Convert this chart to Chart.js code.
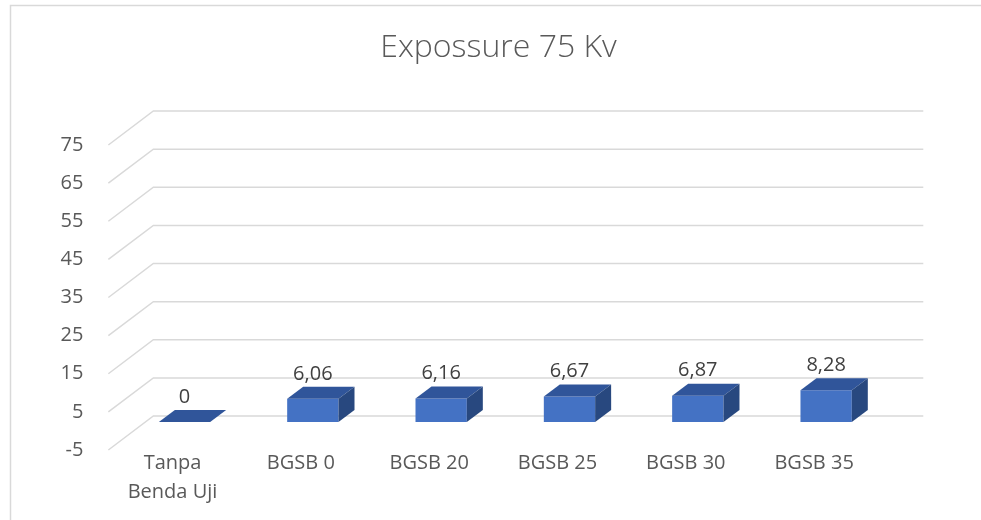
<!DOCTYPE html>
<html>
<head>
<meta charset="utf-8">
<script src="https://cdn.jsdelivr.net/npm/chart.js@4.4.1/dist/chart.umd.min.js"></script>
<style>
  html, body { margin: 0; padding: 0; background: #ffffff; overflow: hidden; }
  #wrap { width: 981px; height: 520px; position: relative; }
</style>
</head>
<body>
<div id="wrap"><canvas id="chart"></canvas></div>
<script>
// Chart data
const categories = [['Tanpa', 'Benda Uji'], 'BGSB 0', 'BGSB 20', 'BGSB 25', 'BGSB 30', 'BGSB 35'];
const exposureValues = [0, 6.06, 6.16, 6.67, 6.87, 8.28];
const yTickValues = [-5, 5, 15, 25, 35, 45, 55, 65, 75];

// Pseudo-3D geometry (pixel offsets relative to the plane of the bar fronts)
const BAR_DEPTH = { dx: 16, dy: -12 };
const FRONT_EDGE = { dx: -12, dy: 9 };
const BACK_WALL = { dx: 33, dy: -25 };

const FONT_FAMILY = "'Open Sans', 'Noto Sans', sans-serif";
const AXIS_TEXT = '#595959';
const LABEL_TEXT = '#404040';
const GRID_COLOR = '#d9d9d9';
const FRONT_COLOR = '#4472C4';
const TOP_COLOR = '#30559A';
const SIDE_COLOR = '#28487F';

function formatValue(v) {
  return String(v).replace('.', ',');
}

const box3d = {
  id: 'box3d',
  beforeDraw(chart) {
    const ctx = chart.ctx;
    ctx.save();
    ctx.strokeStyle = GRID_COLOR;
    ctx.lineWidth = 1.5;
    ctx.beginPath();
    ctx.moveTo(10.5, chart.height);
    ctx.lineTo(10.5, 5.5);
    ctx.lineTo(chart.width, 5.5);
    ctx.stroke();
    ctx.restore();
  },
  beforeDatasetsDraw(chart) {
    const { ctx, chartArea, scales } = chart;
    const y = scales.y;
    ctx.save();
    ctx.strokeStyle = GRID_COLOR;
    ctx.lineWidth = 1.5;
    y.ticks.forEach(t => {
      const py = y.getPixelForValue(t.value);
      ctx.beginPath();
      ctx.moveTo(chartArea.left + FRONT_EDGE.dx, py + FRONT_EDGE.dy);
      ctx.lineTo(chartArea.left + BACK_WALL.dx, py + BACK_WALL.dy);
      ctx.lineTo(chartArea.right + BACK_WALL.dx, py + BACK_WALL.dy);
      ctx.stroke();
    });
    ctx.restore();
  },
  afterDatasetsDraw(chart) {
    const ctx = chart.ctx;
    const meta = chart.getDatasetMeta(0);
    const values = chart.data.datasets[0].data;
    ctx.save();
    meta.data.forEach((bar, i) => {
      const p = bar.getProps(['x', 'y', 'base', 'width'], true);
      const l = p.x - p.width / 2;
      const r = p.x + p.width / 2;
      const top = Math.min(p.y, p.base);
      const bottom = Math.max(p.y, p.base);
      const { dx, dy } = BAR_DEPTH;
      // top face
      ctx.fillStyle = TOP_COLOR;
      ctx.beginPath();
      ctx.moveTo(l, top);
      ctx.lineTo(r, top);
      ctx.lineTo(r + dx, top + dy);
      ctx.lineTo(l + dx, top + dy);
      ctx.closePath();
      ctx.fill();
      // side face
      if (bottom - top > 0.5) {
        ctx.fillStyle = SIDE_COLOR;
        ctx.beginPath();
        ctx.moveTo(r, top);
        ctx.lineTo(r + dx, top + dy);
        ctx.lineTo(r + dx, bottom + dy);
        ctx.lineTo(r, bottom);
        ctx.closePath();
        ctx.fill();
      }
      // value label
      ctx.fillStyle = LABEL_TEXT;
      ctx.font = '20px ' + FONT_FAMILY;
      ctx.textAlign = 'center';
      ctx.textBaseline = 'middle';
      ctx.fillText(formatValue(values[i]), p.x, top + dy - 13);
    });
    ctx.restore();
  }
};

new Chart(document.getElementById('chart'), {
  type: 'bar',
  data: {
    labels: categories,
    datasets: [{
      data: exposureValues,
      backgroundColor: FRONT_COLOR,
      borderWidth: 0,
      barPercentage: 0.4,
      categoryPercentage: 1
    }]
  },
  options: {
    responsive: true,
    maintainAspectRatio: false,
    animation: false,
    events: [],
    layout: { padding: { left: 16, right: 0, top: 0, bottom: 0 } },
    plugins: {
      legend: { display: false },
      tooltip: { enabled: false },
      title: {
        display: true,
        text: 'Expossure 75 Kv',
        color: AXIS_TEXT,
        font: { family: FONT_FAMILY, size: 32, weight: 300, lineHeight: 1.2 },
        padding: { top: 28.4, bottom: 69.2 }
      }
    },
    scales: {
      x: {
        grid: { display: false, drawTicks: false },
        border: { display: false },
        ticks: {
          color: AXIS_TEXT,
          font: { family: FONT_FAMILY, size: 20, lineHeight: 1.45 },
          padding: 7.5,
          labelOffset: FRONT_EDGE.dx,
          maxRotation: 0,
          autoSkip: false
        },
        afterFit(s) { s.height = 79; }
      },
      y: {
        min: yTickValues[0],
        max: yTickValues[yTickValues.length - 1],
        grid: { display: false, drawTicks: false },
        border: { display: false },
        ticks: {
          color: AXIS_TEXT,
          font: { family: FONT_FAMILY, size: 20 },
          padding: 37,
          labelOffset: FRONT_EDGE.dy
        },
        afterBuildTicks(s) { s.ticks = yTickValues.map(v => ({ value: v })); },
        afterFit(s) { s.width = 104.35; }
      },
      depthSpace: {
        type: 'linear',
        position: 'right',
        grid: { display: false, drawTicks: false },
        border: { display: false },
        ticks: { display: false },
        afterFit(s) { s.width = 90.7; }
      }
    }
  },
  plugins: [box3d]
});
</script>
</body>
</html>
